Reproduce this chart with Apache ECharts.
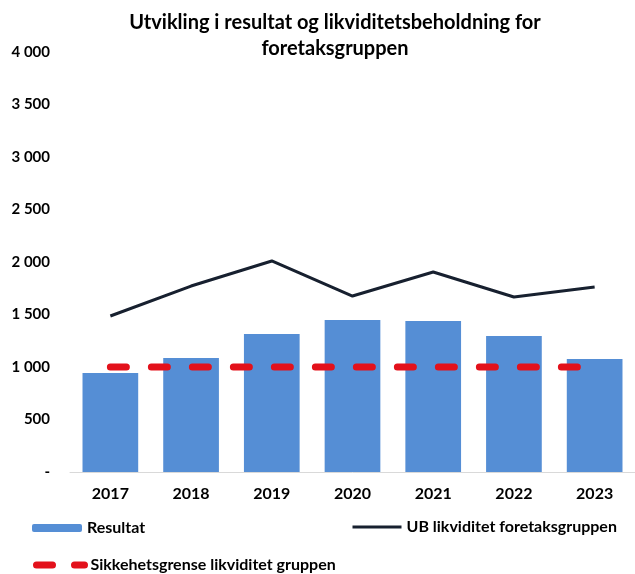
<!DOCTYPE html>
<html>
<head>
<meta charset="utf-8">
<script src="https://cdn.jsdelivr.net/npm/echarts@6/dist/echarts.min.js"></script>
<style>html,body{margin:0;padding:0;background:#fff}#c{width:635px;height:574px}</style>
</head>
<body>
<div id="c"></div>
<script>
const categories = ['2017','2018','2019','2020','2021','2022','2023'];
const resultat = [943, 1086, 1314, 1448, 1438, 1295, 1076];
const ubLikviditet = [1486, 1771, 2010, 1676, 1905, 1667, 1762];
const sikkerhetsgrense = [1000, 1000, 1000, 1000, 1000, 1000, 1000];

const FONT = 'Lato, "Liberation Sans", sans-serif';
const chart = echarts.init(document.getElementById('c'));
function fmt(v){
  if (v === 0) return '-';
  const s = String(v);
  return s.length > 3 ? s.slice(0, s.length-3) + ' ' + s.slice(s.length-3) : s;
}
const legendText = {fontFamily: FONT, fontWeight: 'bold', fontSize: 16, color: '#000'};
const hideSym = {color: 'rgba(0,0,0,0)', borderWidth: 0, opacity: 0};
chart.setOption({
  animation: false,
  title: {
    text: 'Utvikling i resultat og likviditetsbeholdning for\nforetaksgruppen',
    left: 330, textAlign: 'center', top: 5,
    textStyle: {fontFamily: FONT, fontWeight: 'bold', fontSize: 20, lineHeight: 26, color: '#000'}
  },
  grid: {left: 70, top: 52, width: 567, height: 420},
  xAxis: {
    type: 'category', data: categories,
    axisLine: {lineStyle: {color: '#d9d9d9', width: 1}},
    axisTick: {show: false},
    axisLabel: {fontFamily: FONT, fontWeight: 'bold', fontSize: 16, color: '#000', margin: 14}
  },
  yAxis: {
    type: 'value', min: 0, max: 4000, interval: 500,
    splitLine: {show: false}, axisLine: {show: false}, axisTick: {show: false},
    axisLabel: {fontFamily: FONT, fontWeight: 'bold', fontSize: 15, color: '#000', margin: 20, formatter: fmt}
  },
  legend: [
    {data: ['Resultat'], left: 27, top: 515, itemWidth: 50, itemHeight: 8, itemGap: 5,
     textStyle: legendText},
    {data: ['UB likviditet foretaksgruppen'], left: 346, top: 514, itemWidth: 49, itemHeight: 14,
     itemStyle: hideSym, lineStyle: {width: 3, color: '#17202f'},
     textStyle: legendText},
    {data: ['Sikkehetsgrense likviditet gruppen'], left: 28, top: 552, itemWidth: 48, itemHeight: 14,
     itemStyle: hideSym, lineStyle: {width: 7, color: '#e3111b', type: [16, 22], cap: 'round'},
     textStyle: Object.assign({padding: [0,0,0,1]}, legendText)}
  ],
  series: [
    {name: 'Resultat', type: 'bar', data: resultat, barCategoryGap: '31%',
     itemStyle: {color: '#558ed5'}},
    {name: 'UB likviditet foretaksgruppen', type: 'line', data: ubLikviditet, symbol: 'none',
     lineStyle: {color: '#17202f', width: 3}, itemStyle: {color: '#17202f'}},
    {name: 'Sikkehetsgrense likviditet gruppen', type: 'line', data: sikkerhetsgrense, symbol: 'none',
     lineStyle: {color: '#e3111b', width: 7, type: [16, 25], cap: 'round'}, itemStyle: {color: '#e3111b'}}
  ]
});
</script>
</body>
</html>
